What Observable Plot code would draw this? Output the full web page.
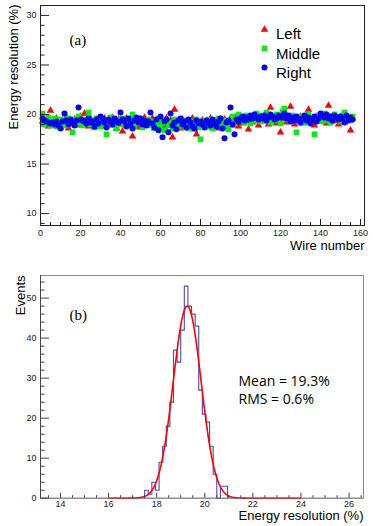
<!DOCTYPE html>
<html><head><meta charset="utf-8">
<script src="https://cdn.jsdelivr.net/npm/d3@7"></script>
<script src="https://cdn.jsdelivr.net/npm/@observablehq/plot@0.6"></script>
<style>html,body{margin:0;padding:0;background:#fff}#chart{width:373px}#chart svg{display:block}</style>
</head><body><div id="chart"></div>
<script>
// ---------- Panel (a): energy resolution per wire ----------
const wireCount = 156;
const seriesNames = ["Left", "Middle", "Right"];
const leftRes = [
19.3,19.0,19.5,18.8,20.4,19.2,18.9,19.6,19.1,18.7,
19.4,19.0,19.7,18.6,19.3,19.1,19.5,18.9,19.2,19.8,
19.0,20.1,19.4,18.8,19.6,19.2,18.7,19.5,19.0,19.3,
18.8,19.6,19.1,19.4,18.9,19.7,19.2,18.6,19.5,19.0,
18.3,19.3,19.6,18.9,19.2,17.8,19.5,19.0,18.7,19.4,
19.1,19.7,18.9,19.3,19.0,19.6,18.6,19.2,19.5,18.8,
19.3,18.7,19.6,19.0,19.4,17.7,20.5,18.9,19.2,18.6,
19.5,19.0,18.8,19.3,19.1,19.6,18.5,18.0,19.2,18.9,
19.4,19.0,18.7,19.3,19.6,18.8,19.1,19.4,18.6,19.2,
19.0,19.5,18.7,19.2,19.6,18.9,19.3,19.8,18.8,19.4,
19.1,19.6,19.3,18.5,19.7,19.2,19.9,19.4,18.9,19.6,
19.3,19.8,19.5,19.0,20.7,19.4,19.7,19.1,19.6,18.2,
19.5,19.9,19.2,19.7,20.8,19.4,19.0,19.6,19.3,19.8,
19.1,19.5,19.9,20.5,19.2,19.6,18.9,19.4,19.7,19.3,
19.8,19.5,19.1,20.9,19.6,19.3,19.9,19.4,19.0,19.7,
19.5,19.2,19.8,19.4,18.4,19.6];
const middleRes = [
20.1,19.0,19.4,19.7,18.9,19.3,19.6,18.8,19.2,19.5,
19.0,19.4,18.9,19.6,19.2,18.2,19.5,19.1,19.8,19.3,
18.9,19.5,19.2,20.2,19.0,19.4,18.7,19.6,19.3,18.8,
19.5,19.1,18.0,19.4,19.7,19.0,19.3,18.6,19.5,19.2,
19.6,18.9,19.3,19.0,19.5,20.0,18.8,19.2,19.6,19.1,
18.7,19.4,19.0,19.5,18.9,19.3,18.6,19.2,19.6,18.8,
19.1,18.4,19.4,18.9,19.2,18.6,19.5,19.0,18.7,19.3,
18.9,19.4,19.1,18.6,19.3,18.8,19.2,19.5,18.7,17.5,
19.0,19.3,18.8,19.5,19.1,18.6,19.4,18.9,19.6,19.2,
18.7,19.4,19.0,18.5,19.3,19.8,19.1,19.5,20.0,19.4,
19.7,19.2,19.9,19.5,19.1,19.8,19.4,20.1,19.6,19.3,
19.9,19.5,20.2,19.7,19.2,19.8,19.4,20.0,19.6,19.1,
20.3,20.6,19.5,19.8,19.3,19.9,19.6,18.2,19.7,19.4,
19.8,19.2,19.6,20.0,19.4,19.7,18.0,19.5,19.9,19.3,
19.6,20.1,19.4,19.8,19.2,19.7,20.0,19.5,19.8,19.3,
19.9,20.2,19.5,19.7,19.4,19.8];
const rightRes = [
19.6,19.4,19.3,19.2,19.1,19.2,19.0,19.3,18.9,18.6,
19.3,20.1,19.4,19.0,19.5,19.2,18.9,19.4,20.7,19.5,
19.4,19.3,19.1,19.6,19.2,19.3,18.8,19.5,19.1,19.8,
19.6,19.2,18.7,19.5,19.3,19.0,19.6,19.4,19.2,20.2,
19.5,19.3,18.8,19.6,19.1,18.6,19.4,19.7,19.2,19.6,
19.0,19.4,18.9,19.3,20.2,19.1,18.7,19.5,18.4,19.8,
17.7,19.3,19.5,18.2,20.1,18.9,19.2,18.5,19.4,19.6,
19.0,19.3,18.7,19.5,19.2,18.8,18.6,19.4,19.1,19.3,
19.0,18.7,19.4,19.2,18.9,19.5,19.1,18.8,19.3,19.6,
18.6,17.6,19.2,19.4,20.7,19.0,18.0,19.5,19.3,19.6,
19.8,19.4,19.7,19.5,19.9,19.6,20.0,19.7,19.5,19.8,
19.6,19.9,19.4,19.7,20.0,19.8,19.5,19.6,19.9,19.7,
19.8,20.1,19.6,19.9,19.3,19.7,19.4,19.8,19.5,19.2,
19.6,19.9,19.4,19.7,19.1,19.5,19.8,19.3,19.6,20.1,
19.9,19.7,20.0,19.6,19.8,19.4,19.9,19.7,19.5,19.8,
19.6,19.2,19.9,19.4,19.7,19.5];
const topXMajor = [0,20,40,60,80,100,120,140,160];
const topXMinor = [5,10,15,25,30,35,45,50,55,65,70,75,85,90,95,105,110,115,125,130,135,145,150,155];
const topYMajor = [10,15,20,25,30];
const topYMinor = [9,11,12,13,14,16,17,18,19,21,22,23,24,26,27,28,29,31];

// ---------- Panel (b): histogram of energy resolution ----------
const histStart = 17.5;
const histBinWidth = 0.15;
const histCounts = [2,1,4,2,9,13,18,24,37,34,42,53,48,46,43,27,21,19,13,6,0,3,3];
const fitMean = 19.27, fitSigma = 0.58, fitAmp = 48, fitRange = [16, 24];
const botXMajor = [14,16,18,20,22,24,26];
const botXMinor = [13.5,14.5,15,15.5,16.5,17,17.5,18.5,19,19.5,20.5,21,21.5,22.5,23,23.5,24.5,25,25.5,26.5];
const botYMajor = [0,10,20,30,40,50];
const botYMinor = [2,4,6,8,12,14,16,18,22,24,26,28,32,34,36,38,42,44,46,48,52,54];

const sans = "'Liberation Sans', Arial, Helvetica, sans-serif";
const serif = "'Liberation Serif', 'Times New Roman', serif";
const ink = "#222";

// ---------- build panel (a) ----------
const wireTable = d3.range(wireCount).map(i => ({
  wire: i + 1, Left: leftRes[i], Middle: middleRes[i], Right: rightRes[i]
}));
const seriesStyle = {
  Left:   {symbol: "triangle", fill: "#ff0000", r: 2.8},
  Middle: {symbol: "square",   fill: "#00ee00", r: 3.2},
  Right:  {symbol: "circle",   fill: "#0000ff", r: 3.0}
};
const aW = 373, aH = 260, aML = 40, aMR = 9, aMT = 5, aMB = 35;
const aInW = aW - aML - aMR, aInH = aH - aMT - aMB;

const legendMarks = seriesNames.flatMap((name, k) => [
  Plot.dot([name], {frameAnchor: "top-left", dx: 224, dy: 24 + 19 * k, ...seriesStyle[name]}),
  Plot.text([name], {text: d => d, frameAnchor: "top-left", dx: 235.5, dy: 23 + 19.5 * k, textAnchor: "start",
    fontSize: 15, fontFamily: sans, fill: "#000"})
]);

const panelA = Plot.plot({
  width: aW, height: aH, marginLeft: aML, marginRight: aMR, marginTop: aMT, marginBottom: aMB,
  x: {domain: [0, 162]},
  y: {domain: [8.8, 31.0]},
  style: {fontFamily: sans, fontSize: "9px", color: ink, background: "#fff", overflow: "visible"},
  marks: [
    ...seriesNames.map(name => Plot.dot(wireTable, {x: "wire", y: name, stroke: null, ...seriesStyle[name]})),
    Plot.frame({stroke: ink, strokeWidth: 1}),
    Plot.tickY(topYMajor, {y: d => d, insetRight: aInW - 9, stroke: ink}),
    Plot.tickY(topYMinor, {y: d => d, insetRight: aInW - 4.5, stroke: ink}),
    Plot.tickX(topXMajor, {x: d => d, insetTop: aInH - 6, stroke: ink}),
    Plot.tickX(topXMinor, {x: d => d, insetTop: aInH - 3, stroke: ink}),
    Plot.axisY({ticks: topYMajor, tickSize: 0, tickPadding: 4, label: null, fill: ink}),
    Plot.axisX({ticks: topXMajor, tickSize: 0, tickPadding: 4, label: null, fill: ink}),
    Plot.text(["Wire number"], {text: d => d, frameAnchor: "bottom-right", dy: 24, textAnchor: "end",
      fontSize: 13, fontFamily: sans, fill: "#000"}),
    Plot.text(["Energy resolution (%)"], {text: d => d, frameAnchor: "top-left", dx: -31.5, dy: -1,
      rotate: -90, textAnchor: "end", fontSize: 13, fontFamily: sans, fill: "#000"}),
    Plot.text(["(a)"], {text: d => d, frameAnchor: "top-left", dx: 29, dy: 29, textAnchor: "start",
      fontSize: 15, fontFamily: serif, fill: "#000"}),
    ...legendMarks
  ]
});

// ---------- build panel (b) ----------
const stepPts = [{x: histStart, y: 0}];
histCounts.forEach((c, i) => {
  const lo = histStart + i * histBinWidth;
  stepPts.push({x: lo, y: c}, {x: lo + histBinWidth, y: c});
});
stepPts.push({x: histStart + histCounts.length * histBinWidth, y: 0});
const fitPts = d3.range(fitRange[0], fitRange[1] + 1e-9, 0.02).map(x => ({
  x, y: fitAmp * Math.exp(-0.5 * ((x - fitMean) / fitSigma) ** 2)
}));

const bW = 373, bH = 266, bML = 40, bMR = 10, bMT = 15, bMB = 28.3;
const bInW = bW - bML - bMR, bInH = bH - bMT - bMB;

const panelB = Plot.plot({
  width: bW, height: bH, marginLeft: bML, marginRight: bMR, marginTop: bMT, marginBottom: bMB,
  x: {domain: [13.17, 26.6]},
  y: {domain: [0, 55.65]},
  style: {fontFamily: sans, fontSize: "9px", color: ink, background: "#fff", overflow: "visible"},
  marks: [
    Plot.frame({stroke: "#888", strokeWidth: 1}),
    Plot.line(stepPts, {x: "x", y: "y", stroke: "#4a4ab4", strokeWidth: 1.1}),
    Plot.line(fitPts, {x: "x", y: "y", stroke: "#ff0000", strokeWidth: 1.6}),
    Plot.ruleX([13.17], {stroke: "#444"}),
    Plot.ruleY([0], {stroke: "#777", strokeOpacity: 0.7}),
    Plot.tickY(botYMajor, {y: d => d, insetRight: bInW - 9, stroke: "#444"}),
    Plot.tickY(botYMinor, {y: d => d, insetRight: bInW - 4.5, stroke: "#444"}),
    Plot.tickX(botXMajor, {x: d => d, insetTop: bInH - 5, stroke: "#444"}),
    Plot.tickX(botXMinor, {x: d => d, insetTop: bInH - 2.5, stroke: "#444"}),
    Plot.axisY({ticks: botYMajor, tickSize: 0, tickPadding: 4, label: null, fill: ink}),
    Plot.axisX({ticks: botXMajor, tickSize: 0, tickPadding: 2, label: null, fill: ink}),
    Plot.text(["Energy resolution (%)"], {text: d => d, frameAnchor: "bottom-right", dy: 22, textAnchor: "end",
      fontSize: 13, fontFamily: sans, fill: "#000"}),
    Plot.text(["Events"], {text: d => d, frameAnchor: "top-left", dx: -25, dy: 0,
      rotate: -90, textAnchor: "end", fontSize: 13, fontFamily: sans, fill: "#000"}),
    Plot.text(["(b)"], {text: d => d, frameAnchor: "top-left", dx: 29, dy: 34, textAnchor: "start",
      fontSize: 15, fontFamily: serif, fill: "#000"}),
    Plot.text(["Mean = 19.3%"], {text: d => d, frameAnchor: "top-left", dx: 198, dy: 101, textAnchor: "start",
      fontSize: 14, fontFamily: "'Open Sans', 'Noto Sans', sans-serif", fill: "#000"}),
    Plot.text(["RMS = 0.6%"], {text: d => d, frameAnchor: "top-left", dx: 198, dy: 119, textAnchor: "start",
      fontSize: 14, fontFamily: "'Open Sans', 'Noto Sans', sans-serif", fill: "#000"})
  ]
});

document.getElementById("chart").append(panelA, panelB);
</script>
</body></html>
